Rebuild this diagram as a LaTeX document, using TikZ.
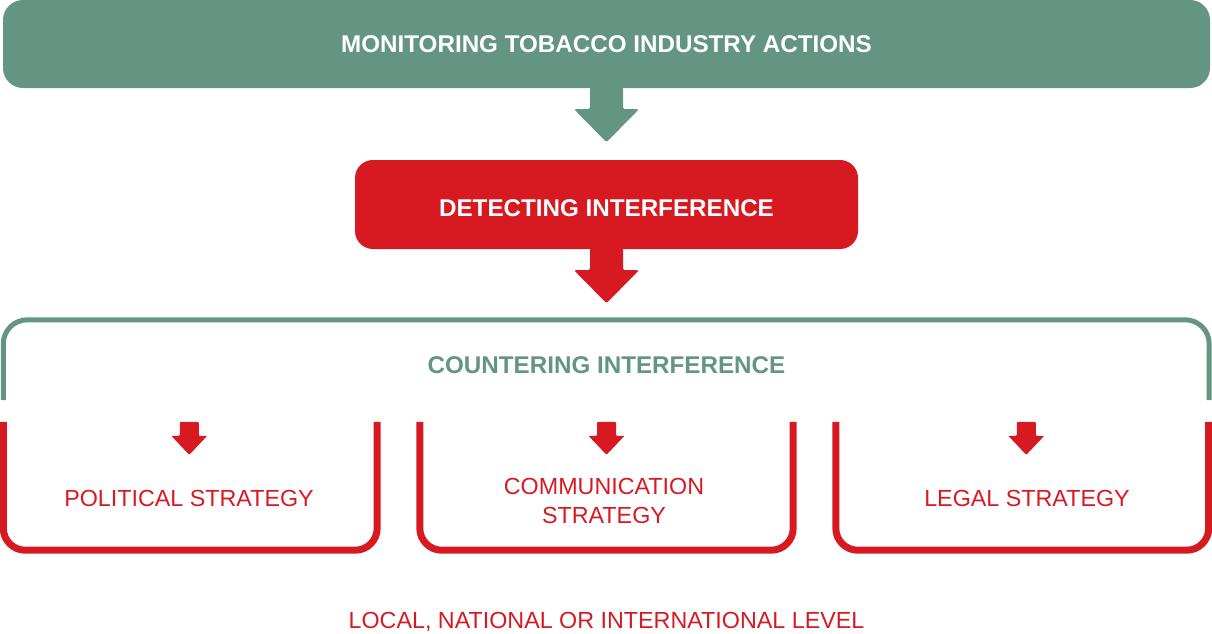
\documentclass[tikz,border=0pt]{standalone}
\usepackage{fontspec}
\setmainfont{Liberation Sans}
\usetikzlibrary{calc}
\definecolor{sage}{RGB}{100,149,130}
\definecolor{signal}{RGB}{215,25,33}
\tikzset{
  banner/.style={rectangle, inner sep=0pt, rounded corners=20pt},
  frame/.style={rectangle, inner sep=0pt},
  headfont/.style={font=\fontsize{24.2}{28}\selectfont\bfseries},
  bodyfont/.style={font=\fontsize{23.3}{29}\selectfont, text=signal},
  greenline/.style={draw=sage, line width=5pt, rounded corners=24pt},
  redline/.style={draw=signal, line width=7pt, rounded corners=22pt},
  bigarrow/.pic={\fill[rounded corners=1.5pt] (-16.5,-1) -- (-16.5,21) -- (-32.5,21) -- (0,54) -- (32.5,21) -- (16.5,21) -- (16.5,-1) -- cycle;},
  smallarrow/.pic={\fill[rounded corners=1pt] (-9.5,0) -- (-9.5,14) -- (-18,14) -- (0,33) -- (18,14) -- (9.5,14) -- (9.5,0) -- cycle;}
}
\begin{document}
\begin{tikzpicture}[x=1pt,y=-1pt]
\useasboundingbox (0,0) rectangle (1212,634);

% monitoring stage
\node[banner, fill=sage, minimum width=1207pt, minimum height=88pt] (monitor) at (606.5,44) {};
\node[headfont, text=white] (monitortext) at (606.5,44.5) {MONITORING TOBACCO INDUSTRY ACTIONS};
\pic[sage] at (monitor.south) {bigarrow};

% detection stage
\node[banner, fill=signal, minimum width=503pt, minimum height=89pt, rounded corners=18pt] (detect) at (606.5,204.5) {};
\node[headfont, text=white] (detecttext) at (606.5,208) {DETECTING INTERFERENCE};
\pic[signal] at (detect.south) {bigarrow};

% countering stage, open at the bottom
\node[frame, minimum width=1205.5pt, minimum height=80pt] (counter) at (606.25,360) {};
\draw[greenline] (counter.south west) -- (counter.north west) -- (counter.north east) -- (counter.south east);
\node[headfont, text=sage] (countertext) at (606.5,365) {COUNTERING INTERFERENCE};

% three strategies, open at the top
\node[frame, minimum width=373.5pt, minimum height=128pt] (political) at (190.25,486) {};
\node[frame, minimum width=373pt, minimum height=128pt] (communication) at (606.5,486) {};
\node[frame, minimum width=372.5pt, minimum height=128pt] (legal) at (1022.25,486) {};
\foreach \b/\dx in {political/-1, communication/0, legal/4} {
  \draw[redline] (\b.north west) -- (\b.south west) -- (\b.south east) -- (\b.north east);
  \pic[signal] at ($(\b.north)+(\dx,0)$) {smallarrow};
}
\node[bodyfont] (politicaltext) at (189,498) {POLITICAL STRATEGY};
\node[bodyfont, align=center] (communicationtext) at (604,500.5) {COMMUNICATION\\STRATEGY};
\node[bodyfont] (legaltext) at (1027,498) {LEGAL STRATEGY};

% scope of action
\node[bodyfont] (level) at (606.5,622) {LOCAL, NATIONAL OR INTERNATIONAL LEVEL};
\end{tikzpicture}
\end{document}
